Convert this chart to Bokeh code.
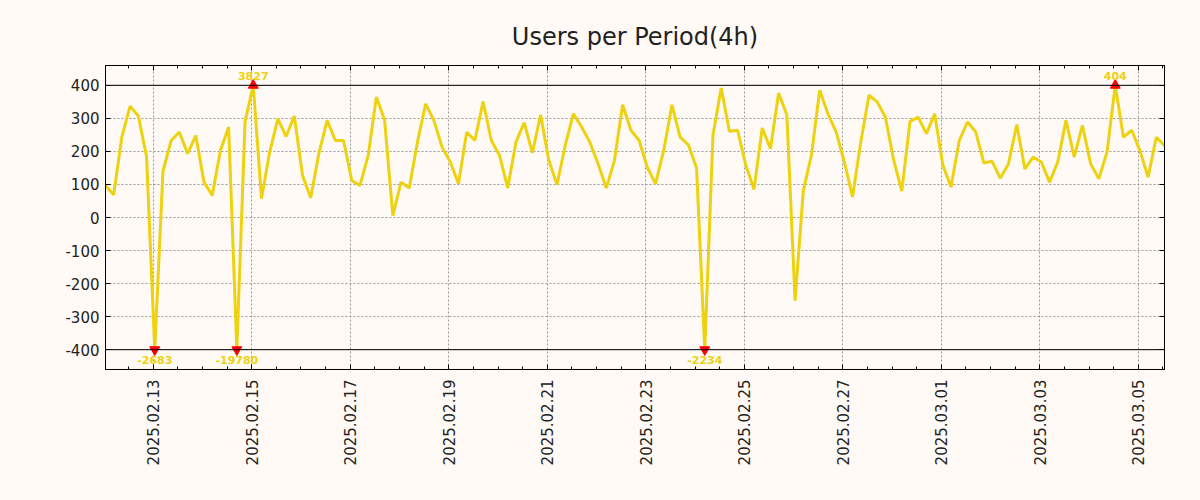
import math
import numpy as np
import pandas as pd
from bokeh.plotting import figure
from bokeh.models import (FixedTicker, DatetimeTickFormatter, LinearAxis, Span,
                          Range1d, ColumnDataSource, DatetimeAxis, CustomJSTickFormatter)
from bokeh.core.properties import value
from bokeh.embed import file_html
from bokeh.resources import INLINE

# ---- data ----
start_time = "2025-02-12 00:45"
period = "4h"
users = [
    97, 69, 245, 337, 307, 185, -2683, 140, 233, 259,
    193, 248, 107, 67, 203, 274, -19780, 290, 3827, 57,
    198, 299, 245, 307, 127, 60, 195, 294, 233, 233,
    112, 97, 188, 365, 294, 6, 107, 89, 228, 344,
    294, 213, 168, 102, 258, 233, 351, 233, 188, 89,
    228, 287, 196, 311, 173, 99, 218, 314, 274, 228,
    163, 89, 173, 341, 264, 233, 152, 102, 203, 341,
    243, 220, 150, -2234, 250, 392, 261, 264, 158, 85,
    271, 208, 377, 310, -252, 80, 190, 385, 314, 259,
    168, 62, 228, 370, 350, 304, 175, 80, 291, 304,
    254, 314, 158, 92, 233, 289, 259, 165, 170, 119,
    163, 281, 147, 183, 168, 107, 168, 294, 183, 279,
    163, 117, 198, 404, 243, 264, 203, 122, 243, 218,
]
clip_limit = 400
y_ticks = [-400, -300, -200, -100, 0, 100, 200, 300, 400]
major_dates = ["2025-02-13", "2025-02-15", "2025-02-17", "2025-02-19", "2025-02-21",
               "2025-02-23", "2025-02-25", "2025-02-27", "2025-03-01", "2025-03-03",
               "2025-03-05"]
minor_start, minor_end = "2025-02-12", "2025-03-06"
title_text = "Users per Period(4h)"

# ---- derived ----
times = pd.date_range(start_time, periods=len(users), freq=period)
vals = np.array(users, dtype=float)
clipped = np.clip(vals, -clip_limit, clip_limit)

def ms(t):
    return pd.Timestamp(t).value / 1e6

major_ms = [ms(d) for d in major_dates]
minor_ms = [t.value / 1e6 for t in pd.date_range(minor_start, minor_end, freq="12h")]

BG = "#fffaf5"
YEL = "#eed211"
TXT = "#222222"

p = figure(width=1200, height=500, x_axis_type="datetime",
           output_backend="svg", toolbar_location=None,
           x_range=Range1d(times[0], times[-1]), y_range=Range1d(-460, 460),
           background_fill_color=BG, border_fill_color=BG,
           min_border_left=105, min_border_right=36, min_border_top=65, min_border_bottom=131)

p.title.text = title_text
p.title.text_font = "DejaVu Sans"
p.title.text_font_size = "24px"
p.title.text_font_style = "normal"
p.title.text_color = TXT
p.title.align = "center"
p.title.standoff = 30

p.outline_line_color = "black"
p.outline_line_width = 1

src = ColumnDataSource(dict(x=times, y=clipped))
p.line("x", "y", source=src, line_color=YEL, line_width=3)

# limit lines
for lim in (clip_limit, -clip_limit):
    p.add_layout(Span(location=lim, dimension="width", line_color="black", line_width=1))

# markers and labels for clipped values
hi = vals > clip_limit
lo = vals < -clip_limit
hi_src = ColumnDataSource(dict(x=times[hi], y=clipped[hi], t=[str(int(v)) for v in vals[hi]]))
lo_src = ColumnDataSource(dict(x=times[lo], y=clipped[lo], t=[str(int(v)) for v in vals[lo]]))
p.scatter("x", "y", source=hi_src, marker="triangle", size=10, fill_color="red", line_color="red")
p.scatter("x", "y", source=lo_src, marker="inverted_triangle", size=10, fill_color="red", line_color="red")
p.text("x", "y", text="t", source=hi_src, text_align="center", text_baseline="bottom",
       y_offset=-5, text_font=value("DejaVu Sans"), text_font_size="11px",
       text_font_style="bold", text_color=YEL)
p.text("x", "y", text="t", source=lo_src, text_align="center", text_baseline="top",
       y_offset=6, text_font=value("DejaVu Sans"), text_font_size="11px",
       text_font_style="bold", text_color=YEL)

# axes styling
xt = FixedTicker(ticks=major_ms, minor_ticks=minor_ms)
yt = FixedTicker(ticks=y_ticks, minor_ticks=[])
fmt = DatetimeTickFormatter(days="%Y.%m.%d", months="%Y.%m.%d", hours="%Y.%m.%d",
                            hourmin="%Y.%m.%d", minutes="%Y.%m.%d", years="%Y.%m.%d")
blank = CustomJSTickFormatter(code="return ''")

xa = p.xaxis[0]
xa.ticker = xt
xa.formatter = fmt
xa.major_label_orientation = math.pi / 2
xa.major_label_standoff = 10
ya = p.yaxis[0]
ya.ticker = yt
ya.formatter = CustomJSTickFormatter(code="return tick.toString()")
ya.major_label_standoff = 6

def style_axis(ax, size="15px"):
    ax.axis_line_color = "black"
    ax.major_tick_in = 5
    ax.major_tick_out = 0
    ax.minor_tick_in = 3
    ax.minor_tick_out = 0
    ax.major_tick_line_color = "black"
    ax.minor_tick_line_color = "black"
    ax.major_label_text_font = "DejaVu Sans"
    ax.major_label_text_font_size = size
    ax.major_label_text_color = TXT

style_axis(xa)
style_axis(ya)

top = DatetimeAxis(ticker=xt, formatter=blank)
style_axis(top, "1px")
top.major_label_standoff = 0
p.add_layout(top, "above")
right = LinearAxis(ticker=yt, formatter=blank)
style_axis(right, "1px")
right.major_label_standoff = 0
p.add_layout(right, "right")

p.xgrid.ticker = xt
p.xgrid.grid_line_color = "#999999"
p.xgrid.grid_line_dash = "2 2"
p.ygrid.ticker = yt
p.ygrid.grid_line_color = "#999999"
p.ygrid.grid_line_dash = "2 2"

html = file_html(p, INLINE)
html = html.replace("</head>", "<style>body{background-color:#fffaf5;}</style></head>")
open("out.html", "w").write(html)
